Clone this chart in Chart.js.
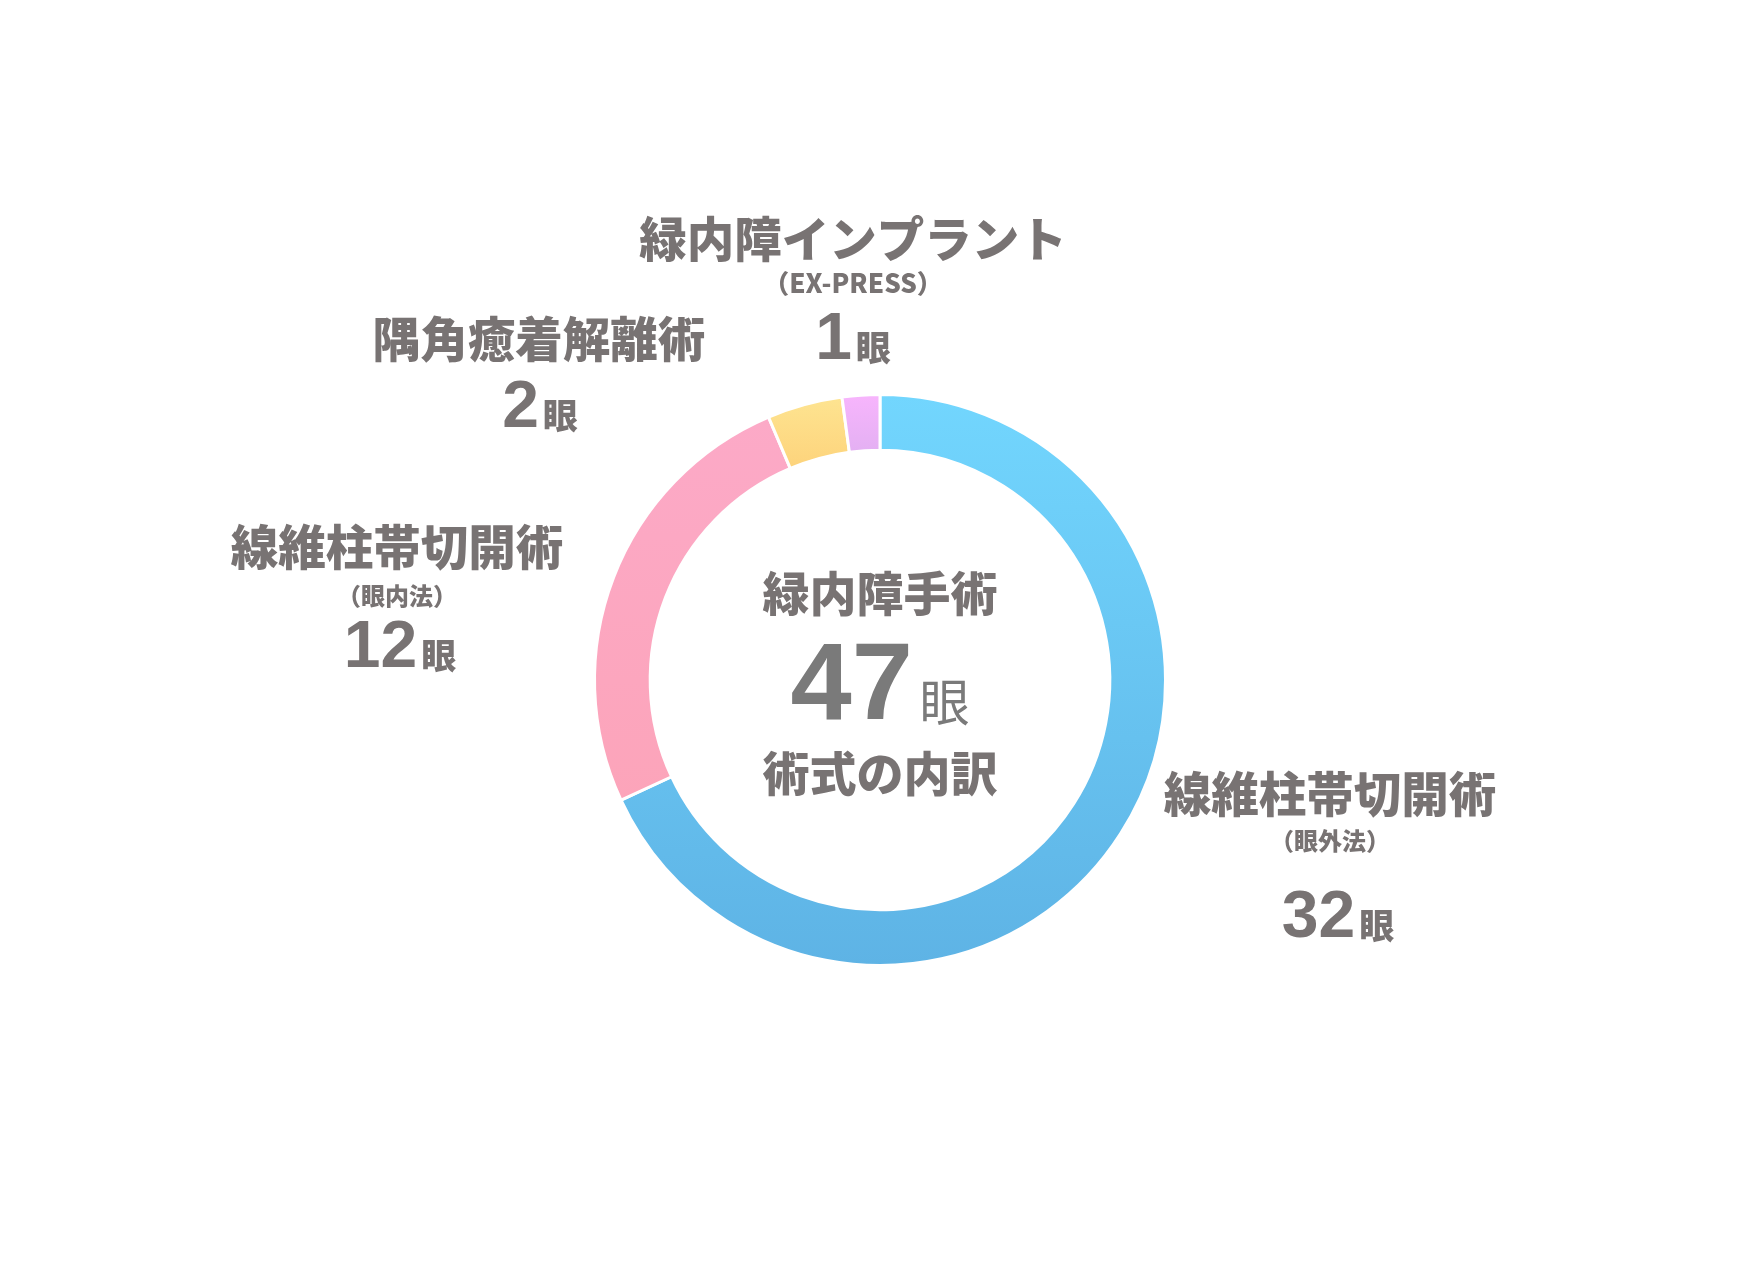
<!DOCTYPE html>
<html lang="ja">
<head>
<meta charset="utf-8">
<title>緑内障手術 術式の内訳</title>
<script src="https://cdn.jsdelivr.net/npm/chart.js@4"></script>
<style>
    html, body { margin: 0; padding: 0; background: #fff; }
    #wrap { width: 1760px; height: 1278px; position: relative; }
</style>
</head>
<body>
<div id="wrap"><canvas id="donutChart"></canvas></div>
<script>
// Datos del gráfico
const categories = ['線維柱帯切開術（眼外法）', '線維柱帯切開術（眼内法）', '隅角癒着解離術', '緑内障インプラント（EX-PRESS）'];
const eyeCounts = [32, 12, 2, 1];
const labelTitles = ['線維柱帯切開術', '線維柱帯切開術', '隅角癒着解離術', '緑内障インプラント'];
const labelNotes = ['（眼外法）', '（眼内法）', '', '（EX-PRESS）'];
const unitLabel = '眼';
const centerTitle = '緑内障手術';
const centerSubtitle = '術式の内訳';

// Colores (arriba / abajo de cada gradiente)
const topColors = ['#72d6fe', '#fcaac8', '#fee592', '#f8b5fd'];
const bottomColors = ['#5eb3e5', '#fca2b4', '#fdd27a', '#dcaeef'];

const textColor = '#787373';
const jpFont = '"Noto Sans CJK JP", "Noto Sans", sans-serif';
const numFont = '"Liberation Sans", Arial, sans-serif';

// Posición de cada etiqueta respecto al centro del anillo (px)
const labelLayout = [
    { dx: 450, numDx: 458, title: 114, note: 161, num: 257, noteSize: 24 },
    { dx: -483, numDx: -480, title: -133, note: -84, num: -13, noteSize: 24 },
    { dx: -341, numDx: -340, title: -341, note: null, num: -253, noteSize: 24 },
    { dx: -27, numDx: -27, title: -441, note: -397, num: -321, noteSize: 26 }
];

const segmentFill = (ctx) => {
    const i = ctx.dataIndex;
    const area = ctx.chart.chartArea;
    if (!area) return topColors[i];
    // los segmentos pequeños sólo ocupan la parte superior del anillo
    const bottom = i >= 2 ? area.top + 80 : area.bottom;
    const g = ctx.chart.ctx.createLinearGradient(0, area.top, 0, bottom);
    g.addColorStop(0, topColors[i]);
    g.addColorStop(1, bottomColors[i]);
    return g;
};

const drawNumber = (c, value, cx, baseline, numSize, unitSize, unitWeight) => {
    c.textBaseline = 'alphabetic';
    c.font = `bold ${numSize}px ${numFont}`;
    const numText = String(value);
    const w1 = c.measureText(numText).width;
    c.font = `${unitWeight} ${unitSize}px ${jpFont}`;
    const gap = numSize * 0.06;
    const w2 = c.measureText(unitLabel).width;
    const start = cx - (w1 + gap + w2) / 2;
    c.textAlign = 'left';
    c.font = `bold ${numSize}px ${numFont}`;
    c.fillText(numText, start, baseline);
    c.font = `${unitWeight} ${unitSize}px ${jpFont}`;
    c.fillText(unitLabel, start + w1 + gap, baseline + 2);
};

const labelPlugin = {
    id: 'surgeryLabels',
    afterDraw(chart) {
        const arc = chart.getDatasetMeta(0).data[0];
        if (!arc) return;
        const cx = arc.x;
        const cy = arc.y;
        const c = chart.ctx;
        c.save();
        c.fillStyle = textColor;

        // etiquetas exteriores
        eyeCounts.forEach((value, i) => {
            const pos = labelLayout[i];
            const x = cx + pos.dx;
            c.textAlign = 'center';
            c.textBaseline = 'middle';
            c.font = `900 47.5px ${jpFont}`;
            c.fillText(labelTitles[i], x, cy + pos.title);
            if (labelNotes[i] && pos.note !== null) {
                c.font = `900 ${pos.noteSize}px ${jpFont}`;
                c.fillText(labelNotes[i], x, cy + pos.note);
            }
            drawNumber(c, value, cx + pos.numDx, cy + pos.num, 66, 35, '900');
        });

        // texto central
        const total = eyeCounts.reduce((a, b) => a + b, 0);
        c.textAlign = 'center';
        c.textBaseline = 'middle';
        c.font = `900 47px ${jpFont}`;
        c.fillText(centerTitle, cx, cy - 87);
        c.fillText(centerSubtitle, cx, cy + 93);
        c.fillStyle = '#7a7a7a';
        drawNumber(c, total, cx, cy + 39, 110, 50, 'normal');
        c.restore();
    }
};

new Chart(document.getElementById('donutChart').getContext('2d'), {
    type: 'doughnut',
    data: {
        labels: categories,
        datasets: [{
            data: eyeCounts,
            backgroundColor: segmentFill,
            borderColor: '#fff',
            borderWidth: 3
        }]
    },
    options: {
        responsive: true,
        maintainAspectRatio: false,
        animation: false,
        cutout: '80.5%',
        layout: {
            padding: { top: 393, bottom: 311 }
        },
        plugins: {
            legend: { display: false },
            tooltip: { enabled: false }
        }
    },
    plugins: [labelPlugin]
});
</script>
</body>
</html>
